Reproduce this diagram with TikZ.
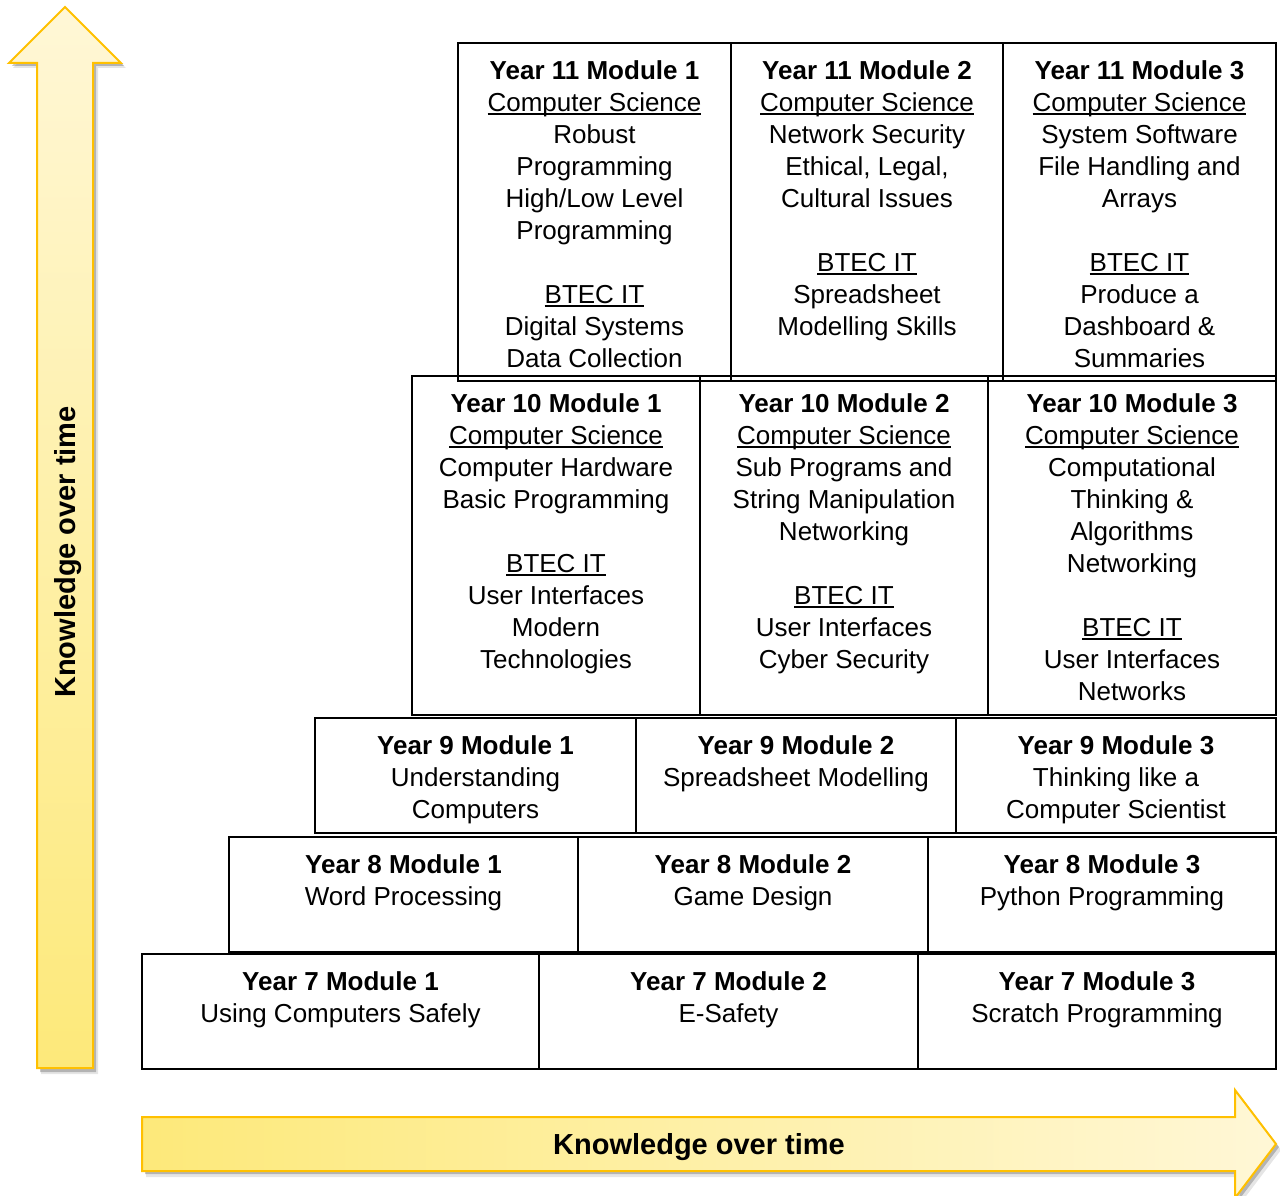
\documentclass[tikz,border=0pt]{standalone}
\usepackage{fontspec}
\setmainfont{Liberation Sans}
\definecolor{ylight}{HTML}{FFF7D6}
\definecolor{ydark}{HTML}{FDE97A}
\definecolor{yborder}{HTML}{FFC000}
\newcommand\ulin[1]{\setbox0\hbox{#1}\rlap{\rule[-3.2pt]{\wd0}{1.6pt}}\box0}
\tikzset{
  modbox/.style={draw=black, line width=2.5pt, inner sep=0pt, outer sep=0pt, anchor=north west},
  modtext/.style={anchor=north, inner sep=0pt, align=center, font=\fontsize{26}{32}\selectfont, yshift=-14pt},
  arrowfill/.style={draw=yborder, line width=2pt, line join=miter},
  arrowshadow/.style={fill=black, opacity=0.22},
  arrowlabel/.style={font=\fontsize{29}{34}\selectfont\bfseries, inner sep=0pt},
}
\begin{document}
\begin{tikzpicture}[x=1pt, y=-1pt]
\useasboundingbox (0,0) rectangle (1280,1196);
% vertical arrow
\fill[arrowshadow, opacity=0.10] (69,12) -- (126,68) -- (98,68) -- (98,1074) -- (41,1074) -- (41,68) -- (13,68) -- cycle;
\fill[arrowshadow] (68,10) -- (124,66) -- (96,66) -- (96,1072) -- (40,1072) -- (40,66) -- (12,66) -- cycle;
\path[arrowfill, top color=ylight, bottom color=ydark] (65,7) -- (121,63) -- (93,63) -- (93,1068) -- (37,1068) -- (37,63) -- (9,63) -- cycle;
\node[arrowlabel, rotate=90] (vlab) at (68,552) {Knowledge over time};
% horizontal arrow
\fill[arrowshadow, opacity=0.10] (146,1123) -- (1240,1123) -- (1240,1095) -- (1281,1150) -- (1240,1204) -- (1240,1177) -- (146,1177) -- cycle;
\fill[arrowshadow] (145,1120) -- (1238,1120) -- (1238,1093) -- (1279,1147) -- (1238,1201) -- (1238,1174) -- (145,1174) -- cycle;
\path[arrowfill, left color=ydark, right color=ylight] (142,1117) -- (1235,1117) -- (1235,1090) -- (1276,1144) -- (1235,1198) -- (1235,1171) -- (142,1171) -- cycle;
\node[arrowlabel] (hlab) at (699,1147) {Knowledge over time};
% Year 10
\node[modbox, minimum width=288pt, minimum height=339pt] (b10a) at (412,376) {};
\node[modbox, minimum width=288pt, minimum height=339pt] (b10b) at (700,376) {};
\node[modbox, minimum width=288pt, minimum height=339pt] (b10c) at (988,376) {};
% Year 11
\node[modbox, minimum width=273pt, minimum height=338pt] (b11a) at (458,43) {};
\node[modbox, minimum width=272pt, minimum height=338pt] (b11b) at (731,43) {};
\node[modbox, minimum width=273pt, minimum height=338pt] (b11c) at (1003,43) {};
% Year 9
\node[modbox, minimum width=321pt, minimum height=115pt] (b9a) at (315,718) {};
\node[modbox, minimum width=320pt, minimum height=115pt] (b9b) at (636,718) {};
\node[modbox, minimum width=320pt, minimum height=115pt] (b9c) at (956,718) {};
% Year 8
\node[modbox, minimum width=349pt, minimum height=115pt] (b8a) at (229,837) {};
\node[modbox, minimum width=350pt, minimum height=115pt] (b8b) at (578,837) {};
\node[modbox, minimum width=348pt, minimum height=115pt] (b8c) at (928,837) {};
% Year 7
\node[modbox, minimum width=397pt, minimum height=115pt] (b7a) at (142,954) {};
\node[modbox, minimum width=379pt, minimum height=115pt] (b7b) at (539,954) {};
\node[modbox, minimum width=358pt, minimum height=115pt] (b7c) at (918,954) {};
% texts
\node[modtext] (t11a) at (b11a.north) {\strut\textbf{Year 11 Module 1}\\\ulin{Computer Science}\\Robust\\Programming\\High/Low Level\\Programming\\[32pt]\ulin{BTEC IT}\\Digital Systems\\Data Collection};
\node[modtext] (t11b) at (b11b.north) {\strut\textbf{Year 11 Module 2}\\\ulin{Computer Science}\\Network Security\\Ethical, Legal,\\Cultural Issues\\[32pt]\ulin{BTEC IT}\\Spreadsheet\\Modelling Skills};
\node[modtext] (t11c) at (b11c.north) {\strut\textbf{Year 11 Module 3}\\\ulin{Computer Science}\\System Software\\File Handling and\\Arrays\\[32pt]\ulin{BTEC IT}\\Produce a\\Dashboard \&\\Summaries};
\node[modtext] (t10a) at (b10a.north) {\strut\textbf{Year 10 Module 1}\\\ulin{Computer Science}\\Computer Hardware\\Basic Programming\\[32pt]\ulin{BTEC IT}\\User Interfaces\\Modern\\Technologies};
\node[modtext] (t10b) at (b10b.north) {\strut\textbf{Year 10 Module 2}\\\ulin{Computer Science}\\Sub Programs and\\String Manipulation\\Networking\\[32pt]\ulin{BTEC IT}\\User Interfaces\\Cyber Security};
\node[modtext] (t10c) at (b10c.north) {\strut\textbf{Year 10 Module 3}\\\ulin{Computer Science}\\Computational\\Thinking \&\\Algorithms\\Networking\\[32pt]\ulin{BTEC IT}\\User Interfaces\\Networks};
\node[modtext] (t9a) at (b9a.north) {\strut\textbf{Year 9 Module 1}\\Understanding\\Computers};
\node[modtext] (t9b) at (b9b.north) {\strut\textbf{Year 9 Module 2}\\Spreadsheet Modelling};
\node[modtext] (t9c) at (b9c.north) {\strut\textbf{Year 9 Module 3}\\Thinking like a\\Computer Scientist};
\node[modtext] (t8a) at (b8a.north) {\strut\textbf{Year 8 Module 1}\\Word Processing};
\node[modtext] (t8b) at (b8b.north) {\strut\textbf{Year 8 Module 2}\\Game Design};
\node[modtext] (t8c) at (b8c.north) {\strut\textbf{Year 8 Module 3}\\Python Programming};
\node[modtext] (t7a) at (b7a.north) {\strut\textbf{Year 7 Module 1}\\Using Computers Safely};
\node[modtext] (t7b) at (b7b.north) {\strut\textbf{Year 7 Module 2}\\E-Safety};
\node[modtext] (t7c) at (b7c.north) {\strut\textbf{Year 7 Module 3}\\Scratch Programming};
\end{tikzpicture}
\end{document}
